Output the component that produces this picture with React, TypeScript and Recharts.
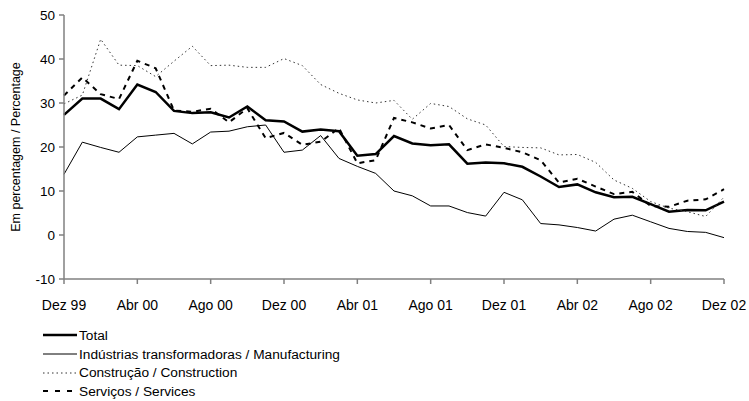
import React from "react";
import { LineChart, Line, XAxis, YAxis, Label } from "recharts";

const MONTHS = [
  "Dez 99",
  "Jan 00", "Fev 00", "Mar 00", "Abr 00", "Mai 00", "Jun 00", "Jul 00", "Ago 00", "Set 00", "Out 00", "Nov 00", "Dez 00",
  "Jan 01", "Fev 01", "Mar 01", "Abr 01", "Mai 01", "Jun 01", "Jul 01", "Ago 01", "Set 01", "Out 01", "Nov 01", "Dez 01",
  "Jan 02", "Fev 02", "Mar 02", "Abr 02", "Mai 02", "Jun 02", "Jul 02", "Ago 02", "Set 02", "Out 02", "Nov 02", "Dez 02",
];

const TOTAL = [
  27.3, 31.0, 31.0, 28.6, 34.2, 32.5, 28.2, 27.7, 27.9, 26.7, 29.2, 26.1, 25.8,
  23.5, 24.0, 23.6, 18.0, 18.4, 22.5, 20.8, 20.4, 20.6, 16.2, 16.5, 16.3,
  15.5, 13.3, 10.9, 11.5, 9.7, 8.6, 8.7, 7.0, 5.3, 5.7, 5.6, 7.6,
];

const MANUFACTURING = [
  13.8, 21.1, 19.9, 18.8, 22.3, 22.7, 23.1, 20.7, 23.4, 23.6, 24.6, 25.0, 18.8,
  19.3, 22.6, 17.4, 15.6, 14.0, 10.0, 8.9, 6.6, 6.6, 5.1, 4.3, 9.7,
  8.0, 2.6, 2.3, 1.7, 0.9, 3.6, 4.5, 3.0, 1.5, 0.8, 0.6, -0.6,
];

const CONSTRUCTION = [
  29.8, 31.8, 44.5, 38.6, 38.5, 36.0, 39.5, 42.9, 38.5, 38.6, 38.1, 38.1, 40.1,
  38.5, 34.2, 32.2, 30.7, 30.0, 30.6, 26.3, 29.9, 29.2, 26.4, 25.0, 20.1,
  19.9, 19.8, 18.2, 18.3, 16.5, 12.5, 10.6, 7.6, 6.1, 5.3, 4.2, 8.6,
];

const SERVICES = [
  31.7, 35.8, 32.0, 30.9, 39.6, 37.9, 28.3, 28.0, 28.7, 25.6, 28.8, 22.0, 23.2,
  20.5, 21.2, 24.3, 16.3, 17.0, 26.6, 25.6, 24.2, 25.0, 19.3, 20.6, 19.8,
  18.8, 17.0, 11.9, 12.8, 11.0, 9.3, 9.8, 6.6, 6.4, 7.8, 8.1, 10.4,
];

const Y_TICKS = [-10, 0, 10, 20, 30, 40, 50];

const SERIES = [
  { key: "total", name: "Total", width: 2.5, dash: undefined, color: "#000" },
  { key: "manufacturing", name: "Indústrias transformadoras / Manufacturing", width: 1, dash: undefined, color: "#000" },
  { key: "construction", name: "Construção / Construction", width: 1, dash: "1.5 3", color: "#333" },
  { key: "services", name: "Serviços / Services", width: 2, dash: "5 5", color: "#000" },
];

const data = MONTHS.map((month, i) => ({
  month,
  total: TOTAL[i],
  manufacturing: MANUFACTURING[i],
  construction: CONSTRUCTION[i],
  services: SERVICES[i],
}));

const FONT = "'Liberation Sans', Arial, sans-serif";
const AXIS = "#808080";

export default function App() {
  return (
    <div
      style={{
        position: "absolute",
        left: 0,
        top: 0,
        width: 749,
        height: 401,
        background: "#fff",
        fontFamily: FONT,
      }}
    >
      <LineChart
        width={749}
        height={320}
        data={data}
        margin={{ top: 15, right: 25, left: 0, bottom: 0 }}
      >
        <XAxis
          dataKey="month"
          interval={3}
          height={41}
          tickSize={5}
          tickMargin={16}
          stroke={AXIS}
          strokeWidth={1.5}
          tick={{ fill: "#000", fontSize: 14, fontFamily: FONT }}
        />
        <YAxis
          domain={[-10, 50]}
          ticks={Y_TICKS}
          width={64}
          tickSize={5}
          tickMargin={4}
          stroke={AXIS}
          strokeWidth={1.5}
          tick={{ fill: "#000", fontSize: 13.5, fontFamily: FONT }}
        >
          <Label
            value="Em percentagem / Percentage"
            angle={-90}
            position="insideLeft"
            offset={16}
            style={{ textAnchor: "middle", fill: "#000", fontSize: 12.5, fontFamily: FONT }}
          />
        </YAxis>
        {SERIES.map((s) => (
          <Line
            key={s.key}
            type="linear"
            dataKey={s.key}
            name={s.name}
            stroke={s.color}
            strokeWidth={s.width}
            strokeDasharray={s.dash}
            dot={false}
            isAnimationActive={false}
          />
        ))}
      </LineChart>
      <div style={{ position: "absolute", left: 43, top: 326 }}>
        {SERIES.map((s) => (
          <div
            key={s.key}
            style={{ display: "flex", alignItems: "center", height: 18.7, fontSize: 13.7 }}
          >
            <svg width={34} height={6} style={{ marginRight: 2 }}>
              <line
                x1={0}
                y1={3}
                x2={34}
                y2={3}
                stroke={s.color}
                strokeWidth={s.width}
                strokeDasharray={s.dash === "5 5" ? "5 7" : s.dash}
              />
            </svg>
            <span>{s.name}</span>
          </div>
        ))}
      </div>
    </div>
  );
}
